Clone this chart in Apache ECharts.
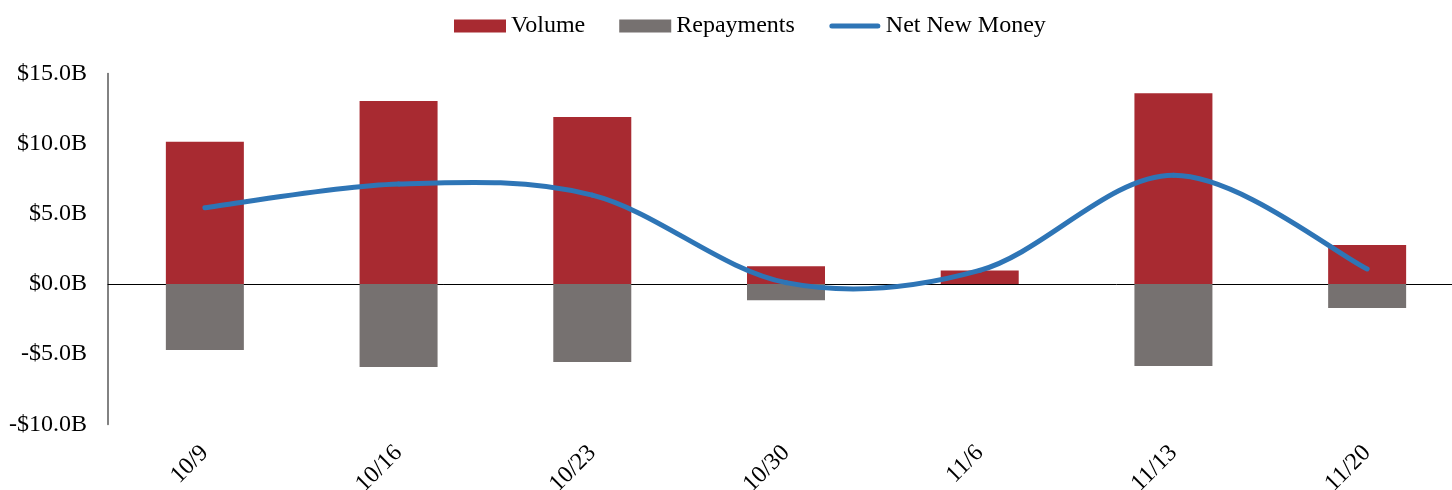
<!DOCTYPE html>
<html>
<head>
<meta charset="utf-8">
<script src="https://cdn.jsdelivr.net/npm/echarts@6/dist/echarts.min.js"></script>
<style>
  html, body { margin: 0; padding: 0; background: #ffffff; }
  #chart { width: 1452px; height: 490px; }
</style>
</head>
<body>
<div id="chart"></div>
<script>
// Weekly issuance, in billions of dollars
const weeks = ['10/9', '10/16', '10/23', '10/30', '11/6', '11/13', '11/20'];
const volume = [10.13, 13.03, 11.89, 1.26, 0.97, 13.58, 2.78];
const repayments = [-4.70, -5.91, -5.56, -1.16, 0, -5.84, -1.71];
const netNewMoney = [5.43, 7.12, 6.33, 0.10, 0.97, 7.74, 1.07];
const yTicks = { min: -10, max: 15, step: 5 };

const FONT = 'Liberation Serif';
const LINE_COLOR = '#2E75B6';

function money(v) {
  const s = '$' + Math.abs(v).toFixed(1) + 'B';
  return v < 0 ? '-' + s : s;
}

// Cardinal-spline segment from point i to i+1, positioned through the axes
function renderNetSegment(params, api) {
  const i = params.dataIndex;
  const n = netNewMoney.length;
  if (i >= n - 1) return null;
  const pt = (k) => {
    const j = Math.max(0, Math.min(n - 1, k));
    return api.coord([j, netNewMoney[j]]);
  };
  const p0 = pt(i - 1), p1 = pt(i), p2 = pt(i + 1), p3 = pt(i + 2);
  const t = 1 / 6;
  return {
    type: 'bezierCurve',
    shape: {
      x1: p1[0], y1: p1[1],
      cpx1: p1[0] + (p2[0] - p0[0]) * t, cpy1: p1[1] + (p2[1] - p0[1]) * t,
      cpx2: p2[0] - (p3[0] - p1[0]) * t, cpy2: p2[1] - (p3[1] - p1[1]) * t,
      x2: p2[0], y2: p2[1]
    },
    style: { stroke: LINE_COLOR, lineWidth: 5, fill: null, lineCap: 'round' },
    z2: 10
  };
}

const chart = echarts.init(document.getElementById('chart'), null, { renderer: 'canvas' });

chart.setOption({
  animation: false,
  backgroundColor: '#ffffff',
  textStyle: { fontFamily: FONT, color: '#000000' },
  legend: {
    left: 449,
    top: 9,
    itemWidth: 52,
    itemHeight: 13,
    itemGap: 34,
    textStyle: { fontFamily: FONT, fontSize: 24, color: '#000000' },
    data: [
      { name: 'Volume', icon: 'rect' },
      { name: 'Repayments', icon: 'rect' },
      {
        name: 'Net New Money',
        icon: 'path://M0,0 M52,13 M3,4 L49,4 A2.5,2.5 0 0 1 49,9 L3,9 A2.5,2.5 0 0 1 3,4 Z'
      }
    ]
  },
  grid: {
    left: 108,
    width: 1356,
    top: 73.4,
    bottom: 65.6,
    containLabel: false,
    outerBoundsMode: 'none'
  },
  xAxis: {
    type: 'category',
    data: weeks,
    axisLine: { onZero: true, lineStyle: { color: '#000000', width: 1 } },
    axisTick: { show: false },
    axisLabel: {
      rotate: 45,
      margin: 25,
      fontFamily: FONT,
      fontSize: 24,
      color: '#000000'
    }
  },
  yAxis: {
    type: 'value',
    min: yTicks.min,
    max: yTicks.max,
    interval: yTicks.step,
    splitLine: { show: false },
    axisLine: { show: true, lineStyle: { color: '#595959', width: 1.5 } },
    axisTick: { show: false },
    axisLabel: {
      margin: 21,
      fontFamily: FONT,
      fontSize: 24,
      color: '#000000',
      formatter: money
    }
  },
  series: [
    {
      name: 'Volume',
      type: 'bar',
      data: volume,
      barWidth: 78,
      barGap: '-100%',
      itemStyle: { color: '#A82A31' },
      z: 2
    },
    {
      name: 'Repayments',
      type: 'bar',
      data: repayments,
      barWidth: 78,
      barGap: '-100%',
      itemStyle: { color: '#767170' },
      z: 2
    },
    {
      name: 'Net New Money',
      type: 'custom',
      data: netNewMoney.map((v, i) => [i, v]),
      encode: { x: 0, y: 1 },
      renderItem: renderNetSegment,
      itemStyle: { color: LINE_COLOR },
      clip: false,
      z: 5
    }
  ]
});
</script>
</body>
</html>
